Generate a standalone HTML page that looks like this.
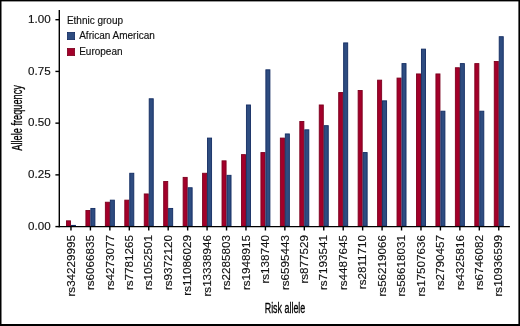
<!DOCTYPE html>
<html><head><meta charset="utf-8"><style>
html,body{margin:0;padding:0;background:#fff;}
body{width:520px;height:326px;overflow:hidden;position:relative;}
svg{position:absolute;left:0;top:0;}
.wrap{position:absolute;left:0;top:0;width:520px;height:326px;will-change:transform;}
text{font-family:"Liberation Sans",sans-serif;fill:#000;}
.tk{font-size:11.2px;fill:#111;stroke:#111;stroke-width:0.15px;}
.lg{font-size:10px;fill:#111;stroke:#111;stroke-width:0.15px;}
.ti{font-size:14.3px;stroke:#000;stroke-width:0.3px;}
</style></head><body>
<div class="wrap"><svg width="520" height="326" viewBox="0 0 520 326">
<rect x="0" y="0" width="520" height="326" fill="#fff"/>
<rect x="66.47" y="220.84" width="4.05" height="5.31" fill="#a3002a" stroke="#7c001e" stroke-width="0.9"/>
<rect x="71.42" y="225.39" width="4.05" height="0.76" fill="#2e4c80" stroke="#132c62" stroke-width="0.9"/>
<rect x="85.91" y="210.50" width="4.05" height="15.65" fill="#a3002a" stroke="#7c001e" stroke-width="0.9"/>
<rect x="90.86" y="208.43" width="4.05" height="17.72" fill="#2e4c80" stroke="#132c62" stroke-width="0.9"/>
<rect x="105.36" y="202.22" width="4.05" height="23.93" fill="#a3002a" stroke="#7c001e" stroke-width="0.9"/>
<rect x="110.31" y="200.15" width="4.05" height="26.00" fill="#2e4c80" stroke="#132c62" stroke-width="0.9"/>
<rect x="124.80" y="200.15" width="4.05" height="26.00" fill="#a3002a" stroke="#7c001e" stroke-width="0.9"/>
<rect x="129.75" y="173.26" width="4.05" height="52.89" fill="#2e4c80" stroke="#132c62" stroke-width="0.9"/>
<rect x="144.25" y="193.95" width="4.05" height="32.20" fill="#a3002a" stroke="#7c001e" stroke-width="0.9"/>
<rect x="149.20" y="98.77" width="4.05" height="127.38" fill="#2e4c80" stroke="#132c62" stroke-width="0.9"/>
<rect x="163.69" y="181.53" width="4.05" height="44.62" fill="#a3002a" stroke="#7c001e" stroke-width="0.9"/>
<rect x="168.64" y="208.43" width="4.05" height="17.72" fill="#2e4c80" stroke="#132c62" stroke-width="0.9"/>
<rect x="183.14" y="177.39" width="4.05" height="48.76" fill="#a3002a" stroke="#7c001e" stroke-width="0.9"/>
<rect x="188.09" y="187.74" width="4.05" height="38.41" fill="#2e4c80" stroke="#132c62" stroke-width="0.9"/>
<rect x="202.58" y="173.26" width="4.05" height="52.89" fill="#a3002a" stroke="#7c001e" stroke-width="0.9"/>
<rect x="207.53" y="138.08" width="4.05" height="88.07" fill="#2e4c80" stroke="#132c62" stroke-width="0.9"/>
<rect x="222.03" y="160.84" width="4.05" height="65.31" fill="#a3002a" stroke="#7c001e" stroke-width="0.9"/>
<rect x="226.98" y="175.32" width="4.05" height="50.83" fill="#2e4c80" stroke="#132c62" stroke-width="0.9"/>
<rect x="241.47" y="154.63" width="4.05" height="71.51" fill="#a3002a" stroke="#7c001e" stroke-width="0.9"/>
<rect x="246.42" y="104.98" width="4.05" height="121.17" fill="#2e4c80" stroke="#132c62" stroke-width="0.9"/>
<rect x="260.92" y="152.57" width="4.05" height="73.58" fill="#a3002a" stroke="#7c001e" stroke-width="0.9"/>
<rect x="265.87" y="69.81" width="4.05" height="156.34" fill="#2e4c80" stroke="#132c62" stroke-width="0.9"/>
<rect x="280.36" y="138.08" width="4.05" height="88.07" fill="#a3002a" stroke="#7c001e" stroke-width="0.9"/>
<rect x="285.31" y="133.94" width="4.05" height="92.20" fill="#2e4c80" stroke="#132c62" stroke-width="0.9"/>
<rect x="299.81" y="121.53" width="4.05" height="104.62" fill="#a3002a" stroke="#7c001e" stroke-width="0.9"/>
<rect x="304.76" y="129.81" width="4.05" height="96.34" fill="#2e4c80" stroke="#132c62" stroke-width="0.9"/>
<rect x="319.25" y="104.98" width="4.05" height="121.17" fill="#a3002a" stroke="#7c001e" stroke-width="0.9"/>
<rect x="324.20" y="125.67" width="4.05" height="100.48" fill="#2e4c80" stroke="#132c62" stroke-width="0.9"/>
<rect x="338.70" y="92.56" width="4.05" height="133.59" fill="#a3002a" stroke="#7c001e" stroke-width="0.9"/>
<rect x="343.65" y="42.91" width="4.05" height="183.24" fill="#2e4c80" stroke="#132c62" stroke-width="0.9"/>
<rect x="358.14" y="90.50" width="4.05" height="135.65" fill="#a3002a" stroke="#7c001e" stroke-width="0.9"/>
<rect x="363.09" y="152.57" width="4.05" height="73.58" fill="#2e4c80" stroke="#132c62" stroke-width="0.9"/>
<rect x="377.59" y="80.15" width="4.05" height="146.00" fill="#a3002a" stroke="#7c001e" stroke-width="0.9"/>
<rect x="382.54" y="100.84" width="4.05" height="125.31" fill="#2e4c80" stroke="#132c62" stroke-width="0.9"/>
<rect x="397.03" y="78.08" width="4.05" height="148.07" fill="#a3002a" stroke="#7c001e" stroke-width="0.9"/>
<rect x="401.98" y="63.60" width="4.05" height="162.55" fill="#2e4c80" stroke="#132c62" stroke-width="0.9"/>
<rect x="416.48" y="73.94" width="4.05" height="152.21" fill="#a3002a" stroke="#7c001e" stroke-width="0.9"/>
<rect x="421.43" y="49.12" width="4.05" height="177.03" fill="#2e4c80" stroke="#132c62" stroke-width="0.9"/>
<rect x="435.92" y="73.94" width="4.05" height="152.21" fill="#a3002a" stroke="#7c001e" stroke-width="0.9"/>
<rect x="440.87" y="111.19" width="4.05" height="114.96" fill="#2e4c80" stroke="#132c62" stroke-width="0.9"/>
<rect x="455.37" y="67.74" width="4.05" height="158.41" fill="#a3002a" stroke="#7c001e" stroke-width="0.9"/>
<rect x="460.32" y="63.60" width="4.05" height="162.55" fill="#2e4c80" stroke="#132c62" stroke-width="0.9"/>
<rect x="474.81" y="63.60" width="4.05" height="162.55" fill="#a3002a" stroke="#7c001e" stroke-width="0.9"/>
<rect x="479.76" y="111.19" width="4.05" height="114.96" fill="#2e4c80" stroke="#132c62" stroke-width="0.9"/>
<rect x="494.26" y="61.53" width="4.05" height="164.62" fill="#a3002a" stroke="#7c001e" stroke-width="0.9"/>
<rect x="499.21" y="36.70" width="4.05" height="189.45" fill="#2e4c80" stroke="#132c62" stroke-width="0.9"/>
<line x1="59.30" y1="9.9" x2="59.30" y2="227.30" stroke="#000" stroke-width="1.4"/>
<line x1="58.60" y1="226.60" x2="509.90" y2="226.60" stroke="#000" stroke-width="1.4"/>
<line x1="55.40" y1="226.60" x2="59.30" y2="226.60" stroke="#000" stroke-width="1.4"/>
<text transform="translate(50.60,229.90) scale(1.04,1)" text-anchor="end" class="tk">0.00</text>
<line x1="55.40" y1="174.88" x2="59.30" y2="174.88" stroke="#000" stroke-width="1.4"/>
<text transform="translate(50.60,178.18) scale(1.04,1)" text-anchor="end" class="tk">0.25</text>
<line x1="55.40" y1="123.15" x2="59.30" y2="123.15" stroke="#000" stroke-width="1.4"/>
<text transform="translate(50.60,126.45) scale(1.04,1)" text-anchor="end" class="tk">0.50</text>
<line x1="55.40" y1="71.42" x2="59.30" y2="71.42" stroke="#000" stroke-width="1.4"/>
<text transform="translate(50.60,74.72) scale(1.04,1)" text-anchor="end" class="tk">0.75</text>
<line x1="55.40" y1="19.70" x2="59.30" y2="19.70" stroke="#000" stroke-width="1.4"/>
<text transform="translate(50.60,23.00) scale(1.04,1)" text-anchor="end" class="tk">1.00</text>
<line x1="70.97" y1="226.60" x2="70.97" y2="230.50" stroke="#000" stroke-width="1.4"/>
<text transform="translate(74.67,235.10) rotate(-90) scale(1.04,1)" text-anchor="end" class="tk">rs34229995</text>
<line x1="90.41" y1="226.60" x2="90.41" y2="230.50" stroke="#000" stroke-width="1.4"/>
<text transform="translate(94.11,235.10) rotate(-90) scale(1.04,1)" text-anchor="end" class="tk">rs6066835</text>
<line x1="109.86" y1="226.60" x2="109.86" y2="230.50" stroke="#000" stroke-width="1.4"/>
<text transform="translate(113.56,235.10) rotate(-90) scale(1.04,1)" text-anchor="end" class="tk">rs4273077</text>
<line x1="129.30" y1="226.60" x2="129.30" y2="230.50" stroke="#000" stroke-width="1.4"/>
<text transform="translate(133.00,235.10) rotate(-90) scale(1.04,1)" text-anchor="end" class="tk">rs7781265</text>
<line x1="148.75" y1="226.60" x2="148.75" y2="230.50" stroke="#000" stroke-width="1.4"/>
<text transform="translate(152.45,235.10) rotate(-90) scale(1.04,1)" text-anchor="end" class="tk">rs1052501</text>
<line x1="168.19" y1="226.60" x2="168.19" y2="230.50" stroke="#000" stroke-width="1.4"/>
<text transform="translate(171.89,235.10) rotate(-90) scale(1.04,1)" text-anchor="end" class="tk">rs9372120</text>
<line x1="187.64" y1="226.60" x2="187.64" y2="230.50" stroke="#000" stroke-width="1.4"/>
<text transform="translate(191.34,235.10) rotate(-90) scale(1.04,1)" text-anchor="end" class="tk">rs11086029</text>
<line x1="207.08" y1="226.60" x2="207.08" y2="230.50" stroke="#000" stroke-width="1.4"/>
<text transform="translate(210.78,235.10) rotate(-90) scale(1.04,1)" text-anchor="end" class="tk">rs13338946</text>
<line x1="226.53" y1="226.60" x2="226.53" y2="230.50" stroke="#000" stroke-width="1.4"/>
<text transform="translate(230.23,235.10) rotate(-90) scale(1.04,1)" text-anchor="end" class="tk">rs2285803</text>
<line x1="245.97" y1="226.60" x2="245.97" y2="230.50" stroke="#000" stroke-width="1.4"/>
<text transform="translate(249.67,235.10) rotate(-90) scale(1.04,1)" text-anchor="end" class="tk">rs1948915</text>
<line x1="265.42" y1="226.60" x2="265.42" y2="230.50" stroke="#000" stroke-width="1.4"/>
<text transform="translate(269.12,235.10) rotate(-90) scale(1.04,1)" text-anchor="end" class="tk">rs138740</text>
<line x1="284.86" y1="226.60" x2="284.86" y2="230.50" stroke="#000" stroke-width="1.4"/>
<text transform="translate(288.56,235.10) rotate(-90) scale(1.04,1)" text-anchor="end" class="tk">rs6595443</text>
<line x1="304.31" y1="226.60" x2="304.31" y2="230.50" stroke="#000" stroke-width="1.4"/>
<text transform="translate(308.01,235.10) rotate(-90) scale(1.04,1)" text-anchor="end" class="tk">rs877529</text>
<line x1="323.75" y1="226.60" x2="323.75" y2="230.50" stroke="#000" stroke-width="1.4"/>
<text transform="translate(327.45,235.10) rotate(-90) scale(1.04,1)" text-anchor="end" class="tk">rs7193541</text>
<line x1="343.20" y1="226.60" x2="343.20" y2="230.50" stroke="#000" stroke-width="1.4"/>
<text transform="translate(346.90,235.10) rotate(-90) scale(1.04,1)" text-anchor="end" class="tk">rs4487645</text>
<line x1="362.64" y1="226.60" x2="362.64" y2="230.50" stroke="#000" stroke-width="1.4"/>
<text transform="translate(366.34,235.10) rotate(-90) scale(1.04,1)" text-anchor="end" class="tk">rs2811710</text>
<line x1="382.09" y1="226.60" x2="382.09" y2="230.50" stroke="#000" stroke-width="1.4"/>
<text transform="translate(385.79,235.10) rotate(-90) scale(1.04,1)" text-anchor="end" class="tk">rs56219066</text>
<line x1="401.53" y1="226.60" x2="401.53" y2="230.50" stroke="#000" stroke-width="1.4"/>
<text transform="translate(405.23,235.10) rotate(-90) scale(1.04,1)" text-anchor="end" class="tk">rs58618031</text>
<line x1="420.98" y1="226.60" x2="420.98" y2="230.50" stroke="#000" stroke-width="1.4"/>
<text transform="translate(424.68,235.10) rotate(-90) scale(1.04,1)" text-anchor="end" class="tk">rs17507636</text>
<line x1="440.42" y1="226.60" x2="440.42" y2="230.50" stroke="#000" stroke-width="1.4"/>
<text transform="translate(444.12,235.10) rotate(-90) scale(1.04,1)" text-anchor="end" class="tk">rs2790457</text>
<line x1="459.87" y1="226.60" x2="459.87" y2="230.50" stroke="#000" stroke-width="1.4"/>
<text transform="translate(463.57,235.10) rotate(-90) scale(1.04,1)" text-anchor="end" class="tk">rs4325816</text>
<line x1="479.31" y1="226.60" x2="479.31" y2="230.50" stroke="#000" stroke-width="1.4"/>
<text transform="translate(483.01,235.10) rotate(-90) scale(1.04,1)" text-anchor="end" class="tk">rs6746082</text>
<line x1="498.76" y1="226.60" x2="498.76" y2="230.50" stroke="#000" stroke-width="1.4"/>
<text transform="translate(502.46,235.10) rotate(-90) scale(1.04,1)" text-anchor="end" class="tk">rs10936599</text>
<text class="lg" x="66.9" y="23.8">Ethnic group</text>
<rect x="67.4" y="32.4" width="7.2" height="7.2" fill="#2e4c80" stroke="#132c62" stroke-width="0.8"/>
<text class="lg" x="79.2" y="39.2">African American</text>
<rect x="67.4" y="48.4" width="7.2" height="7.2" fill="#a3002a" stroke="#7c001e" stroke-width="0.8"/>
<text class="lg" x="79.2" y="55.2">European</text>
<text class="ti" transform="translate(285,312.9) scale(0.623,1)" text-anchor="middle">Risk allele</text>
<text class="ti" transform="translate(21.8,117.9) rotate(-90) scale(0.644,1)" text-anchor="middle">Allele frequency</text>
<rect x="0" y="0" width="520" height="1.4" fill="#000"/>
<rect x="0" y="324.0" width="520" height="2.0" fill="#000"/>
<rect x="0" y="0" width="1.5" height="326" fill="#000"/>
<rect x="518.4" y="0" width="1.6" height="326" fill="#000"/>
</svg></div>
</body></html>
